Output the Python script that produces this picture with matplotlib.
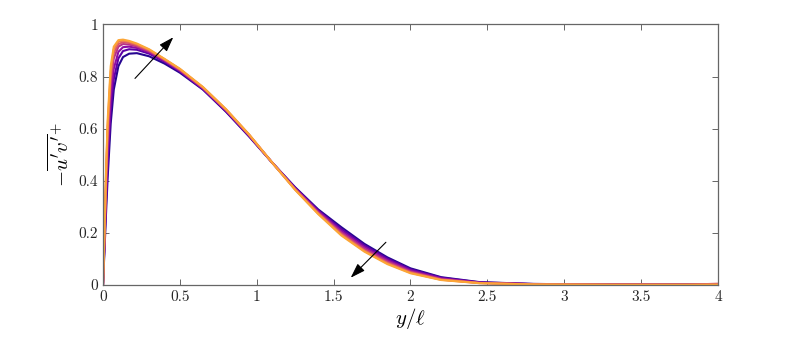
import numpy as np
import matplotlib
matplotlib.use('Agg')
from matplotlib import pyplot as plt

plt.rcParams['font.family'] = 'serif'
plt.rcParams['font.serif'] = ['cmr10', 'DejaVu Serif']
plt.rcParams['mathtext.fontset'] = 'cm'
plt.rcParams['axes.unicode_minus'] = False

# distancia a la pared y/l
y_l = [0, 0.01, 0.02, 0.03, 0.05, 0.07, 0.1, 0.13, 0.17, 0.22, 0.3, 0.4, 0.5, 0.65,
       0.8, 0.95, 1.1, 1.25, 1.4, 1.55, 1.7, 1.85, 2.0, 2.2, 2.45, 2.8, 3.3, 3.8, 4.0]

# esfuerzo de Reynolds -u'v'+ (de azul a naranja)
uv_0 = [0, 0.14, 0.28, 0.41, 0.62, 0.75, 0.84, 0.875, 0.888, 0.89, 0.878, 0.85, 0.815, 0.75,
        0.665, 0.57, 0.47, 0.375, 0.29, 0.222, 0.158, 0.106, 0.064, 0.03, 0.011, 0.004, 0.002, 0.002, 0.002]
uv_1 = [0, 0.16, 0.32, 0.46, 0.67, 0.79, 0.87, 0.898, 0.905, 0.903, 0.888, 0.857, 0.82, 0.752,
        0.667, 0.572, 0.47, 0.373, 0.286, 0.215, 0.152, 0.101, 0.06, 0.028, 0.010, 0.004, 0.002, 0.002, 0.002]
uv_2 = [0, 0.17, 0.35, 0.5, 0.72, 0.83, 0.895, 0.913, 0.915, 0.91, 0.893, 0.86, 0.822, 0.754,
        0.669, 0.574, 0.47, 0.371, 0.283, 0.208, 0.146, 0.096, 0.056, 0.025, 0.009, 0.003, 0.002, 0.002, 0.002]
uv_3 = [0, 0.19, 0.38, 0.55, 0.77, 0.87, 0.915, 0.925, 0.923, 0.916, 0.897, 0.863, 0.825, 0.756,
        0.671, 0.575, 0.47, 0.369, 0.279, 0.202, 0.14, 0.091, 0.052, 0.023, 0.008, 0.003, 0.002, 0.001, 0.001]
uv_4 = [0, 0.2, 0.41, 0.59, 0.8, 0.89, 0.925, 0.932, 0.929, 0.92, 0.9, 0.865, 0.827, 0.758,
        0.673, 0.577, 0.47, 0.367, 0.276, 0.197, 0.134, 0.086, 0.049, 0.021, 0.008, 0.003, 0.001, 0.001, 0.005]
uv_5 = [0, 0.21, 0.43, 0.61, 0.82, 0.905, 0.934, 0.938, 0.934, 0.924, 0.903, 0.867, 0.829, 0.759,
        0.674, 0.577, 0.47, 0.366, 0.274, 0.193, 0.131, 0.083, 0.047, 0.020, 0.007, 0.002, 0.001, 0.001, 0.001]
uv_6 = [0, 0.22, 0.44, 0.63, 0.84, 0.915, 0.94, 0.942, 0.937, 0.927, 0.905, 0.868, 0.83, 0.76,
        0.675, 0.578, 0.47, 0.365, 0.272, 0.19, 0.128, 0.08, 0.045, 0.019, 0.007, 0.002, 0.001, 0.001, 0.001]

perfiles = [uv_0, uv_1, uv_2, uv_3, uv_4, uv_5, uv_6]

xticks = [0, 0.5, 1, 1.5, 2, 2.5, 3, 3.5, 4]
xticklabels = ['0', '0.5', '1', '1.5', '2', '2.5', '3', '3.5', '4']
yticks = [0, 0.2, 0.4, 0.6, 0.8, 1]
yticklabels = ['0', '0.2', '0.4', '0.6', '0.8', '1']

fig = plt.figure(figsize=(7.93, 3.37), dpi=100)
ax = fig.add_axes([0.1299, 0.1543, 0.7755, 0.773])

colores = plt.cm.plasma(np.linspace(0.04, 0.8, len(perfiles)))
for uv, c in zip(perfiles, colores):
    ax.plot(y_l, uv, color=c, lw=1.5)

ax.annotate('', xy=(0.457, 0.951), xytext=(0.208, 0.793),
            arrowprops=dict(arrowstyle='-|>,head_length=0.9,head_width=0.3', color='black', lw=0.8,
                            shrinkA=0, shrinkB=0))
ax.annotate('', xy=(1.611, 0.028), xytext=(1.84, 0.164),
            arrowprops=dict(arrowstyle='-|>,head_length=0.9,head_width=0.3', color='black', lw=0.8,
                            shrinkA=0, shrinkB=0))

ax.set_xlim(0, 4)
ax.set_ylim(0, 1)
ax.set_xticks(xticks)
ax.set_xticklabels(xticklabels)
ax.set_yticks(yticks)
ax.set_yticklabels(yticklabels)
ax.tick_params(direction='in', top=True, right=True, length=4, width=0.7,
               color='0.4', labelcolor='#262626', labelsize=11)
for s in ax.spines.values():
    s.set_color('0.4')
    s.set_linewidth(0.9)

ax.set_xlabel(r'$y/\ell$', fontsize=15, labelpad=2)
ax.set_ylabel(r"$-\overline{u'v'}^{+}$", fontsize=15, labelpad=4)

plt.savefig('out.png', dpi=100)
